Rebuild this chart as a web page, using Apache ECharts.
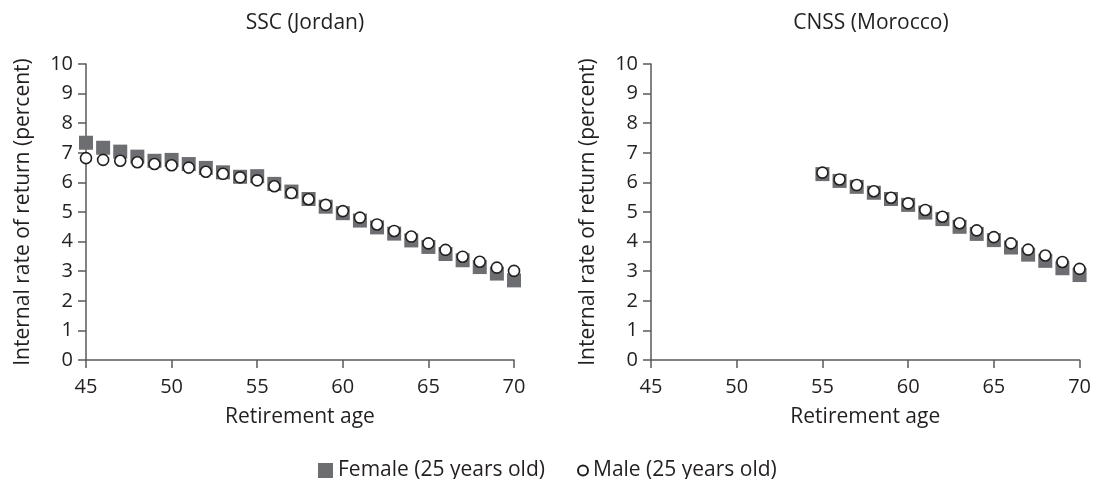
<!DOCTYPE html>
<html>
<head>
<meta charset="utf-8">
<script src="https://cdn.jsdelivr.net/npm/echarts@6/dist/echarts.min.js"></script>
<style>
html,body{margin:0;padding:0;background:#fff;}
#chart{width:1094px;height:479px;}
</style>
</head>
<body>
<div id="chart"></div>
<script>
// Data
const agesJordan = [45,46,47,48,49,50,51,52,53,54,55,56,57,58,59,60,61,62,63,64,65,66,67,68,69,70];
const femaleJordan = [7.34,7.17,7.04,6.87,6.73,6.76,6.62,6.49,6.34,6.19,6.21,5.95,5.69,5.44,5.18,4.96,4.71,4.48,4.27,4.04,3.82,3.58,3.37,3.14,2.92,2.69];
const maleJordan = [6.82,6.76,6.73,6.68,6.62,6.58,6.50,6.36,6.29,6.17,6.07,5.87,5.64,5.43,5.24,5.03,4.81,4.58,4.36,4.17,3.94,3.72,3.49,3.32,3.12,3.01];
const agesMorocco = [55,56,57,58,59,60,61,62,63,64,65,66,67,68,69,70];
const femaleMorocco = [6.28,6.05,5.85,5.65,5.44,5.24,4.98,4.76,4.50,4.26,4.05,3.80,3.56,3.35,3.10,2.87];
const maleMorocco = [6.33,6.10,5.91,5.70,5.48,5.29,5.07,4.84,4.62,4.38,4.15,3.94,3.73,3.53,3.31,3.08];
const panelTitles = ['SSC (Jordan)', 'CNSS (Morocco)'];
const seriesNames = ['Female (25 years old)', 'Male (25 years old)'];
const xAxisName = 'Retirement age';
const yAxisName = 'Internal rate of return (percent)';

const FONT = 'Open Sans';
const TXT = '#231f20';
const AX = '#58595b';
const FEMALE_COLOR = '#6d6e71';

function pairs(xs, ys){ return xs.map((x,i)=>[x, ys[i]]); }

const chart = echarts.init(document.getElementById('chart'), null, {renderer:'canvas'});

function xAxisCfg(idx){
  return {
    gridIndex: idx, type:'value', min:45, max:70, interval:5,
    name: xAxisName, nameLocation:'middle', nameGap:47,
    nameTextStyle:{fontFamily:FONT, fontSize:21, color:TXT},
    axisLine:{show:true, lineStyle:{color:AX, width:1.5}},
    axisTick:{show:true, inside:false, length:8, lineStyle:{color:AX, width:1.5}},
    axisLabel:{fontFamily:FONT, fontSize:20, color:TXT, margin:17},
    splitLine:{show:false}
  };
}
function yAxisCfg(idx){
  return {
    gridIndex: idx, type:'value', min:0, max:10, interval:1,
    name: yAxisName, nameLocation:'middle', nameGap:52, nameRotate:90,
    nameTextStyle:{fontFamily:FONT, fontSize:21, color:TXT},
    axisLine:{show:true, lineStyle:{color:AX, width:1.5}},
    axisTick:{show:true, inside:false, length:8, lineStyle:{color:AX, width:1.5}},
    axisLabel:{fontFamily:FONT, fontSize:20, color:TXT, margin:13},
    splitLine:{show:false}
  };
}

const femaleStyle = {symbol:'rect', symbolSize:14, itemStyle:{color:FEMALE_COLOR, opacity:1}};
const maleStyle = {symbol:'circle', symbolSize:11, itemStyle:{color:'#ffffff', borderColor:TXT, borderWidth:1.6, opacity:1}};

const option = {
  backgroundColor:'#ffffff',
  animation:false,
  title:[
    {text:panelTitles[0], left:300, top:8, textAlign:'center', textStyle:{fontFamily:FONT, fontSize:21, fontWeight:'normal', color:TXT}},
    {text:panelTitles[1], left:866, top:8, textAlign:'center', textStyle:{fontFamily:FONT, fontSize:21, fontWeight:'normal', color:TXT}}
  ],
  legend:[
    {data:[{name:seriesNames[0], icon:'rect'}], left:313, top:455, itemWidth:15, itemHeight:15, itemGap:6,
     textStyle:{fontFamily:FONT, fontSize:21, color:TXT}},
    {data:[{name:seriesNames[1], icon:'circle'}], left:572, top:455, itemWidth:10, itemHeight:10, itemGap:6,
     textStyle:{fontFamily:FONT, fontSize:21, color:TXT}}
  ],
  grid:[
    {left:86, right:580, top:64, bottom:119, containLabel:false},
    {left:651, right:14, top:64, bottom:119, containLabel:false}
  ],
  xAxis:[xAxisCfg(0), xAxisCfg(1)],
  yAxis:[yAxisCfg(0), yAxisCfg(1)],
  series:[
    Object.assign({type:'scatter', name:seriesNames[0], xAxisIndex:0, yAxisIndex:0, data:pairs(agesJordan, femaleJordan), z:2}, femaleStyle),
    Object.assign({type:'scatter', name:seriesNames[1], xAxisIndex:0, yAxisIndex:0, data:pairs(agesJordan, maleJordan), z:3}, maleStyle),
    Object.assign({type:'scatter', name:seriesNames[0], xAxisIndex:1, yAxisIndex:1, data:pairs(agesMorocco, femaleMorocco), z:2}, femaleStyle),
    Object.assign({type:'scatter', name:seriesNames[1], xAxisIndex:1, yAxisIndex:1, data:pairs(agesMorocco, maleMorocco), z:3}, maleStyle)
  ]
};
chart.setOption(option);
</script>
</body>
</html>
